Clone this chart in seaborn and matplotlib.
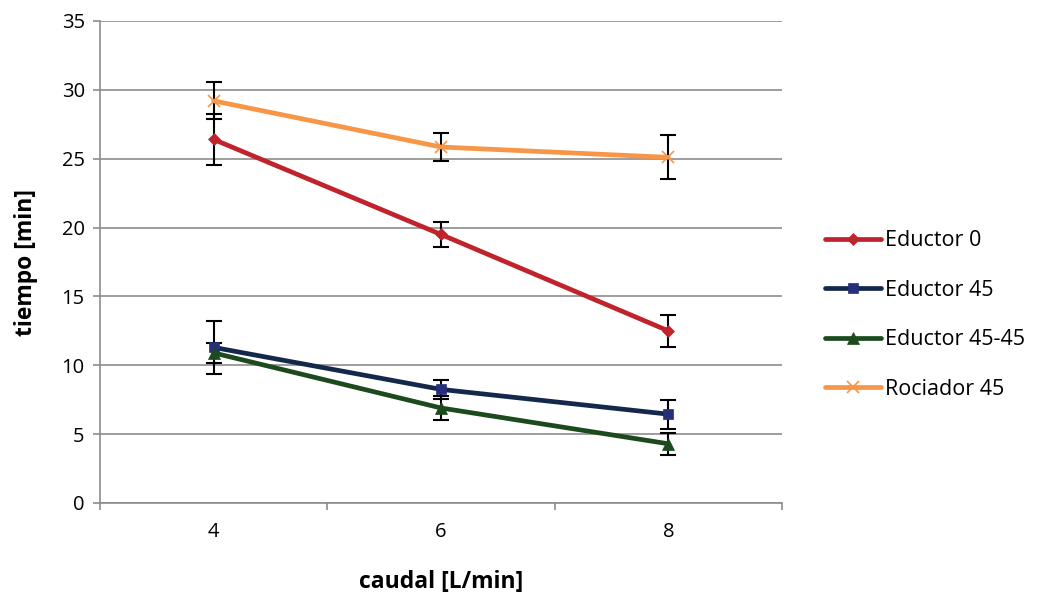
import numpy as np
import pandas as pd
import matplotlib
matplotlib.use("Agg")
import matplotlib.pyplot as plt
import seaborn as sns

caudal = [4, 6, 8]
series_names = ["Eductor 0", "Eductor 45", "Eductor 45-45", "Rociador 45"]
eductor0 = [26.4, 19.5, 12.5]
eductor45 = [11.3, 8.25, 6.45]
eductor4545 = [10.9, 6.9, 4.3]
rociador45 = [29.2, 25.85, 25.1]
err_eductor0 = [1.85, 0.9, 1.15]
err_eductor45 = [1.9, 0.7, 1.05]
err_eductor4545 = [0.7, 0.85, 0.8]
err_rociador45 = [1.35, 1.0, 1.6]

values = [eductor0, eductor45, eductor4545, rociador45]
errors = [err_eductor0, err_eductor45, err_eductor4545, err_rociador45]

df = pd.DataFrame({
    "caudal": caudal * 4,
    "tiempo": sum(values, []),
    "serie": sum([[n] * 3 for n in series_names], []),
})

sns.set_style("white")
plt.rcParams["font.family"] = ["Open Sans", "DejaVu Sans"]
plt.rcParams["text.color"] = "black"
plt.rcParams["xtick.labelcolor"] = "black"
plt.rcParams["ytick.labelcolor"] = "black"
plt.rcParams["axes.labelcolor"] = "black"

colors = {"Eductor 0": "#C0232B", "Eductor 45": "#14284B",
          "Eductor 45-45": "#1C4A1E", "Rociador 45": "#F79646"}
marker_face = {"Eductor 0": "#C0232B", "Eductor 45": "#26307A",
               "Eductor 45-45": "#1C4A1E", "Rociador 45": "#F79646"}
markers = {"Eductor 0": "D", "Eductor 45": "s",
           "Eductor 45-45": "^", "Rociador 45": "x"}
msizes = {"Eductor 0": 6.5, "Eductor 45": 7.5, "Eductor 45-45": 8, "Rociador 45": 8.5}

fig = plt.figure(figsize=(10.38, 5.92), dpi=100)
ax = fig.add_axes([100 / 1038, 89 / 592, 682 / 1038, 482 / 592])

# error bars first, drawn under the lines
for name, v, e in zip(series_names, values, errors):
    ax.errorbar(caudal, v, yerr=e, fmt="none", ecolor="black",
                elinewidth=1.5, capsize=6, capthick=1.5, zorder=2)

for name in series_names:
    sub = df[df["serie"] == name]
    sns.lineplot(data=sub, x="caudal", y="tiempo", ax=ax, color=colors[name],
                 linewidth=3.4, marker=markers[name], markersize=msizes[name],
                 markerfacecolor=marker_face[name],
                 markeredgecolor=marker_face[name],
                 markeredgewidth=1.2 if name == "Rociador 45" else 0.5,
                 label=name, zorder=3)

ax.set_xlim(3, 9)
ax.set_ylim(0, 35)
ax.set_yticks(np.arange(0, 36, 5))
ax.set_xticks(caudal)
ax.set_xticks([3, 5, 7, 9], minor=True)
ax.yaxis.grid(True, color="#8C8C8C", linewidth=1.2)
ax.set_axisbelow(True)

for s in ["top", "right"]:
    ax.spines[s].set_visible(False)
for s in ["left", "bottom"]:
    ax.spines[s].set_color("#8C8C8C")
    ax.spines[s].set_linewidth(1.2)

ax.tick_params(axis="y", which="major", left=True, length=5, width=1.2,
               color="#8C8C8C", labelsize=14.5, pad=6)
ax.tick_params(axis="x", which="major", bottom=False, labelsize=14.5, pad=10)
ax.tick_params(axis="x", which="minor", bottom=True, length=5, width=1.2,
               color="#8C8C8C")

ax.set_xlabel("caudal [L/min]", fontsize=16.5, fontweight="bold", labelpad=20)
ax.set_ylabel("tiempo [min]", fontsize=16.5, fontweight="bold", labelpad=17)

handles, labels = ax.get_legend_handles_labels()
ax.legend(handles, labels, loc="center left", bbox_to_anchor=(1.05, 0.39),
          frameon=False, fontsize=15.5, handlelength=2.6, handletextpad=0.2,
          labelspacing=1.33, borderaxespad=0)

fig.savefig("out.png", dpi=100)
